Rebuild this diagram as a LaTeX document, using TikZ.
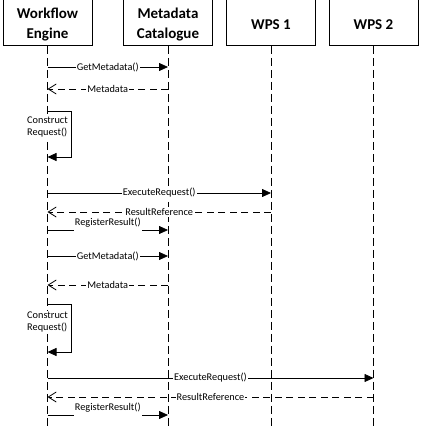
\documentclass[tikz,border=0pt]{standalone}
\usepackage{fontspec}
\setmainfont{Carlito}
\usetikzlibrary{calc,arrows.meta,positioning}
\tikzset{
  actor/.style={rectangle,draw=black,line width=0.9pt,minimum width=89pt,minimum height=60pt,
    label={[align=center,yshift=-9pt,font=\bfseries\fontsize{15}{20}\selectfont]center:#1}},
  life/.style={draw,line width=0.8pt,dash pattern=on 8pt off 4pt},
  call/.style={draw,line width=0.8pt,-{Triangle[length=9pt,width=8pt]}},
  reply/.style={draw,line width=0.8pt,dash pattern=on 7pt off 4.5pt,-{Straight Barb[length=8pt,width=10pt]}},
  lbl/.style={fill=white,inner sep=1pt,font=\fontsize{10.3}{12.5}\selectfont},
}
\begin{document}
\begin{tikzpicture}[x=1pt,y=-1pt]
    \useasboundingbox (0,0) rectangle (428,428);

    \node[actor={Workflow\\Engine}] (we) at (47.5,15.5) {};
    \node[actor={Metadata\\Catalogue},right of=we,node distance=120.5pt] (mc) {};
    \node[actor={WPS 1},right of=mc,node distance=103pt] (wps1) {};
    \node[actor={WPS 2},right of=wps1,node distance=102.5pt] (wps2) {};

    \foreach \n in {we,mc,wps1,wps2}
      \path[life] (\n.south) -- (\n.south |- 0,430);

    \path[call] (we |- 0,67) -- node[lbl,midway] (gm1) {GetMetadata()} (mc |- 0,67);
    \path[reply] (mc |- 0,89) -- node[lbl,midway] (md1) {Metadata} (we |- 0,89);
    \path[call] (we |- 0,111) -- ++(24,0) |- (we |- 0,157);
    \node[lbl,align=left] (cr1) at (we |- 0,127) {Construct\\Request()};
    \path[call] (we |- 0,193) -- node[lbl,midway] (ex1) {ExecuteRequest()} (wps1 |- 0,193);
    \path[reply] (wps1 |- 0,212) -- node[lbl,midway] (rr1) {ResultReference} (we |- 0,212);
    \path[call] (we |- 0,230) -- node[lbl,midway,yshift=7pt,minimum height=15pt] (rg1) {RegisterResult()} (mc |- 0,230);

    \path[call] (we |- 0,256) -- node[lbl,midway] (gm2) {GetMetadata()} (mc |- 0,256);
    \path[reply] (mc |- 0,285) -- node[lbl,midway] (md2) {Metadata} (we |- 0,285);
    \path[call] (we |- 0,304) -- ++(24,0) |- (we |- 0,352);
    \node[lbl,align=left] (cr2) at (we |- 0,322) {Construct\\Request()};
    \path[call] (we |- 0,378) -- node[lbl,midway] (ex2) {ExecuteRequest()} (wps2 |- 0,378);
    \path[reply] (wps2 |- 0,397) -- node[lbl,midway] (rr2) {ResultReference} (we |- 0,397);
    \path[call] (we |- 0,415) -- node[lbl,midway,yshift=7pt,minimum height=15pt] (rg2) {RegisterResult()} (mc |- 0,415);
\end{tikzpicture}
\end{document}
